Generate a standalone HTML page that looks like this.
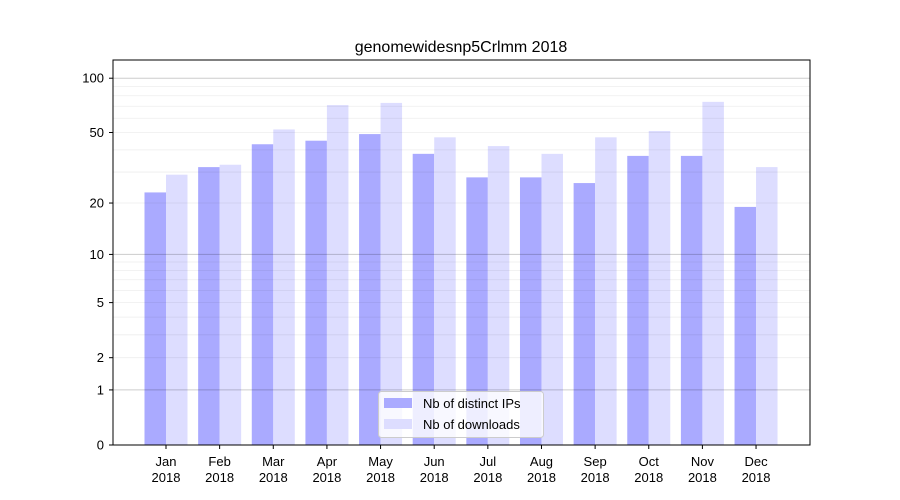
<!DOCTYPE html>
<html><head><meta charset="utf-8"><style>body{margin:0;background:#fff}svg{display:block;font-family:"Liberation Sans","DejaVu Sans",sans-serif}</style></head><body>
<svg width="900" height="500" xmlns="http://www.w3.org/2000/svg">
<rect width="900" height="500" fill="#fff"/>
<g id="bars"></g>
<g id="grid"></g>
<rect x="113" y="60" width="697" height="385" fill="none" stroke="#000" stroke-width="1"/>
<g id="ticks" font-size="13" fill="#000"></g>
<text x="461" y="52" font-size="16" text-anchor="middle">genomewidesnp5Crlmm 2018</text>
<g>
<rect x="378.5" y="391.5" width="165" height="46" rx="3" fill="#fff" fill-opacity="0.8" stroke="#ccc"/>
<rect x="384" y="398" width="28" height="10" fill="#aaaaff"/>
<text x="423" y="408" font-size="13">Nb of distinct IPs</text>
<rect x="384" y="419" width="28" height="10" fill="#ddddff"/>
<text x="423" y="429" font-size="13">Nb of downloads</text>
</g>
<script>
const ns="http://www.w3.org/2000/svg";
function Y(v){return 445-183*Math.log10(1+v);}
function el(t,a,p,txt){const e=document.createElementNS(ns,t);for(const k in a)e.setAttribute(k,a[k]);if(txt!==undefined)e.textContent=txt;document.getElementById(p).appendChild(e);}
const minor=[2,3,4,5,6,7,8,9,20,30,40,50,60,70,80,90];
minor.forEach(v=>el('line',{x1:113,x2:810,y1:Y(v),y2:Y(v),stroke:'#000','stroke-opacity':0.07,'stroke-width':0.8},'grid'));
[1,10,100].forEach(v=>el('line',{x1:113,x2:810,y1:Y(v),y2:Y(v),stroke:'#000','stroke-opacity':0.2,'stroke-width':1},'grid'));
[0,1,2,5,10,20,50,100].forEach(v=>{const y=Y(v);el('line',{x1:109,x2:113,y1:y,y2:y,stroke:'#000'},'ticks');el('text',{x:104,y:y+4.5,'text-anchor':'end'},'ticks',String(v));});
const m=['Jan','Feb','Mar','Apr','May','Jun','Jul','Aug','Sep','Oct','Nov','Dec'];
const a=[23,32,43,45,49,38,28,28,26,37,37,19];
const b=[29,33,52,71,73,47,42,38,47,51,74,32];
m.forEach((n,i)=>{const c=166+i*53.64;
el('rect',{x:c-21.5,y:Y(a[i]),width:21.5,height:445-Y(a[i]),fill:'#aaaaff'},'bars');
el('rect',{x:c,y:Y(b[i]),width:21.5,height:445-Y(b[i]),fill:'#ddddff'},'bars');
el('line',{x1:c,x2:c,y1:445,y2:449,stroke:'#000'},'ticks');
el('text',{x:c,y:466,'text-anchor':'middle'},'ticks',n);
el('text',{x:c,y:482,'text-anchor':'middle'},'ticks','2018');});
</script>
</svg>
</body></html>
